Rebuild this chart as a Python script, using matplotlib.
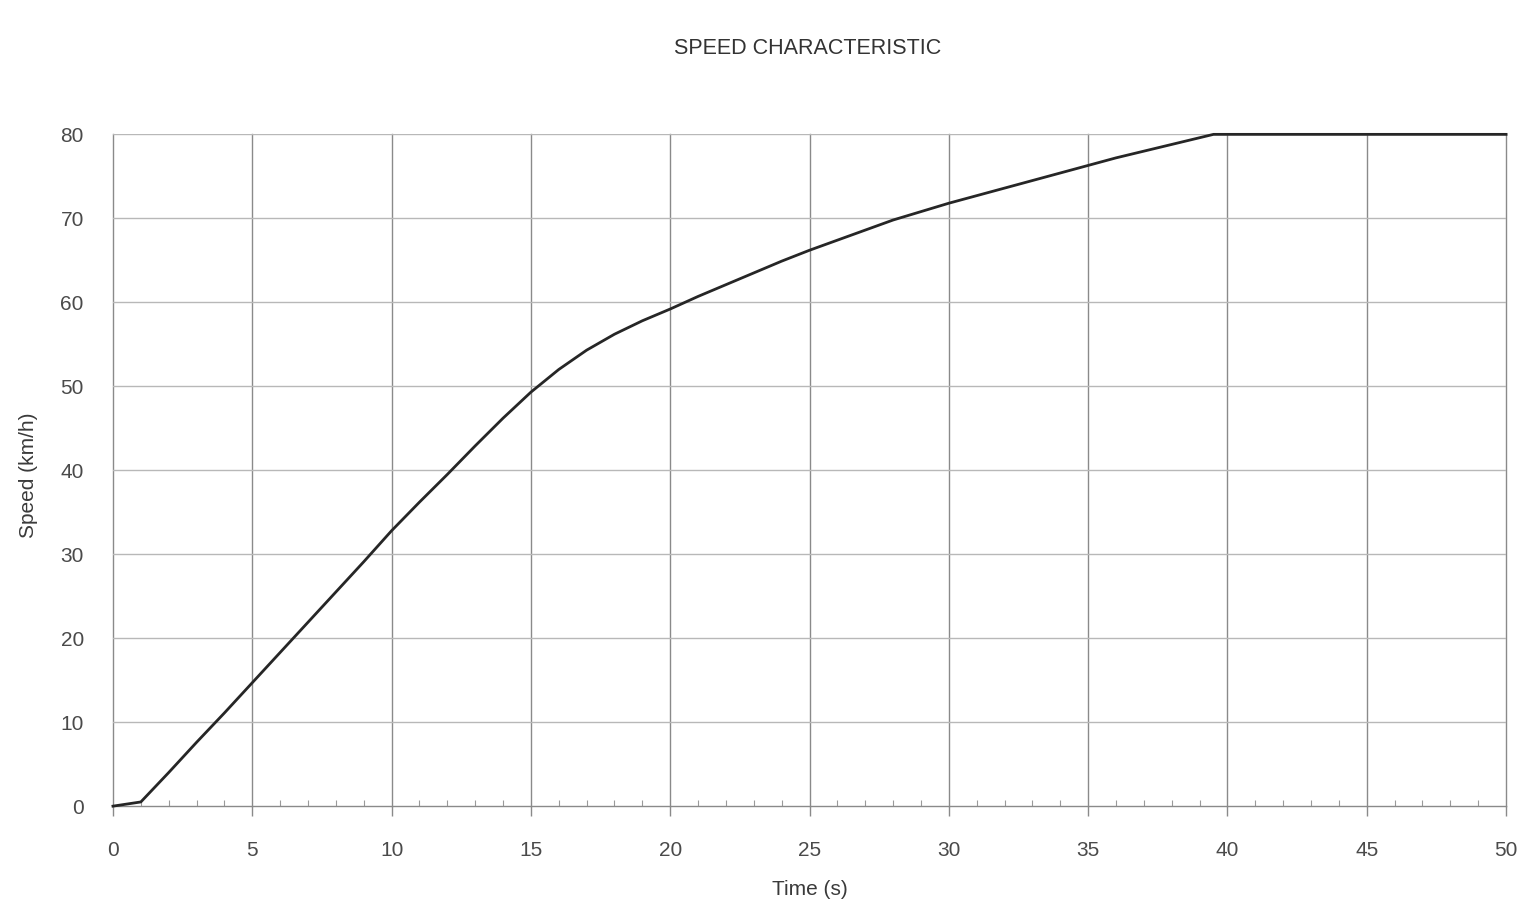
import matplotlib
matplotlib.use('Agg')
import matplotlib.pyplot as plt
from matplotlib.ticker import MultipleLocator

plt.rcParams['font.family'] = ['Liberation Sans', 'DejaVu Sans']

# values
time_s = [0, 1, 2, 3, 4, 5, 6, 7, 8, 9, 10, 11, 12, 13, 14, 15, 16, 17, 18, 19, 20,
          21, 22, 23, 24, 25, 26, 27, 28, 29, 30, 32, 34, 36, 38, 39.5, 50]
speed_kmh = [0, 0.5, 4.0, 7.6, 11.1, 14.7, 18.3, 21.9, 25.5, 29.1, 32.8, 36.2, 39.5,
             42.9, 46.2, 49.3, 52.0, 54.3, 56.2, 57.8, 59.2,
             60.7, 62.1, 63.5, 64.9, 66.2, 67.4, 68.6, 69.8, 70.8, 71.8, 73.6, 75.4, 77.2, 78.8, 80, 80]
x_ticks = [0, 5, 10, 15, 20, 25, 30, 35, 40, 45, 50]
y_ticks = [0, 10, 20, 30, 40, 50, 60, 70, 80]


def plot():
    fig = plt.figure(figsize=(15.39, 9.14), dpi=100)
    ax = fig.add_axes([0.0734, 0.118, 0.9052, 0.735])

    ax.set_xlim(0, 50)
    ax.set_ylim(0, 80)
    ax.set_xticks(x_ticks)
    ax.set_yticks(y_ticks)
    ax.xaxis.set_minor_locator(MultipleLocator(1))

    # grid: vertical lines darker, horizontal lines lighter
    for x in x_ticks:
        ax.axvline(x, color='#8a8a8a', lw=1.0, zorder=1, clip_on=False)
    for y in y_ticks[1:]:
        ax.axhline(y, color='#b8b8b8', lw=1.0, zorder=1)

    ax.plot(time_s, speed_kmh, color='#262626', lw=2.0, zorder=3, clip_on=False)

    for side in ['top', 'right', 'left']:
        ax.spines[side].set_visible(False)
    ax.spines['bottom'].set_color('#8a8a8a')
    ax.spines['bottom'].set_linewidth(1.0)

    ax.tick_params(axis='x', which='major', direction='out', length=7, width=1,
                   color='#8a8a8a', pad=18, labelsize=15, labelcolor='#4a4a4a')
    ax.tick_params(axis='x', which='minor', direction='in', length=4, width=0.8,
                   color='#9a9a9a')
    ax.tick_params(axis='y', which='major', length=0, pad=21, labelsize=15,
                   labelcolor='#4a4a4a')

    ax.set_xlabel('Time (s)', fontsize=15, color='#3a3a3a')
    ax.set_ylabel('Speed (km/h)', fontsize=15, color='#3a3a3a')
    ax.xaxis.set_label_coords(0.5004, -0.110)
    ax.yaxis.set_label_coords(-0.054, 0.4926)

    fig.text(0.525, 0.947, 'SPEED CHARACTERISTIC', ha='center', va='center',
             fontsize=15.5, color='#333333')

    fig.savefig('out.png', dpi=100)


if __name__ == '__main__':
    plot()
